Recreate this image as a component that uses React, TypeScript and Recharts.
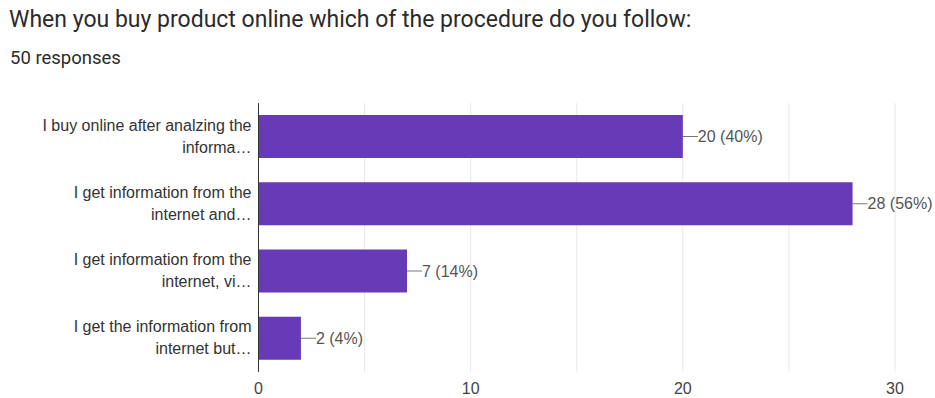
import { BarChart, Bar, XAxis, YAxis, CartesianGrid, LabelList } from "recharts";

const title = "When you buy product online which of the procedure do you follow:";
const subtitle = "50 responses";
const categories = [
  "I buy online after analzing the\ninforma…",
  "I get information from the\ninternet and…",
  "I get information from the\ninternet, vi…",
  "I get the information from\ninternet but…",
];
const counts = [20, 28, 7, 2];
const percents = [40, 56, 14, 4];
const xTicks = [0, 10, 20, 30];
const gridValues = [0, 5, 10, 15, 20, 25, 30];

const data = categories.map((c, i) => ({ name: c, value: counts[i], pct: percents[i] }));

const FONT = "'Liberation Sans', Arial, sans-serif";

const CatTick = (props: any) => {
  const { x, y, payload } = props;
  const lines = String(payload.value).split("\n");
  return (
    <text x={x} y={y} textAnchor="end" fill="#333" fontSize={16} fontFamily={FONT}>
      {lines.map((l, i) => (
        <tspan key={i} x={x + 1} dy={i === 0 ? -(lines.length - 1) * 11 + 5 : 22}>{l}</tspan>
      ))}
    </text>
  );
};

const ValueLabel = (props: any) => {
  const { x, y, width, height, index } = props;
  const ex = x + width;
  const cy = y + height / 2;
  return (
    <g>
      <line x1={ex} y1={cy} x2={ex + 15} y2={cy} stroke="#777" strokeWidth={1} />
      <text x={ex + 15} y={cy + 5.5} fill="#555" fontSize={16} fontFamily={FONT}>
        {`${counts[index]} (${percents[index]}%)`}
      </text>
    </g>
  );
};

export default function App() {
  return (
    <div style={{ position: "absolute", left: 0, top: 0, width: 935, height: 398, background: "#fff", overflow: "hidden" }}>
      <div style={{ position: "absolute", left: 9, top: 6, fontFamily: "Roboto, sans-serif", fontSize: 23, lineHeight: "28px", color: "#2b2b2b", whiteSpace: "nowrap" }}>
        {title}
      </div>
      <div style={{ position: "absolute", left: 10, top: 47, fontFamily: "Roboto, sans-serif", fontSize: 18.5, lineHeight: "22px", color: "#2b2b2b", whiteSpace: "nowrap" }}>
        {subtitle}
      </div>
      <div style={{ position: "absolute", left: 0, top: 0 }}>
        <BarChart
          width={935}
          height={398}
          data={data}
          layout="vertical"
          margin={{ top: 103, right: 40, bottom: 0, left: 0 }}
          barSize={43}
        >
          <CartesianGrid horizontal={false} verticalValues={gridValues} stroke="#e8e8e8" />
          <XAxis
            type="number"
            domain={[0, 30]}
            ticks={xTicks}
            axisLine={false}
            tickLine={false}
            height={26}
            tickMargin={5}
            tick={{ fill: "#444", fontSize: 16, fontFamily: FONT }}
          />
          <YAxis
            type="category"
            dataKey="name"
            width={258.5}
            axisLine={{ stroke: "#333" }}
            tickLine={false}
            tick={<CatTick />}
          />
          <Bar dataKey="value" fill="#673ab7" isAnimationActive={false}>
            <LabelList dataKey="value" content={<ValueLabel />} />
          </Bar>
        </BarChart>
      </div>
    </div>
  );
}
